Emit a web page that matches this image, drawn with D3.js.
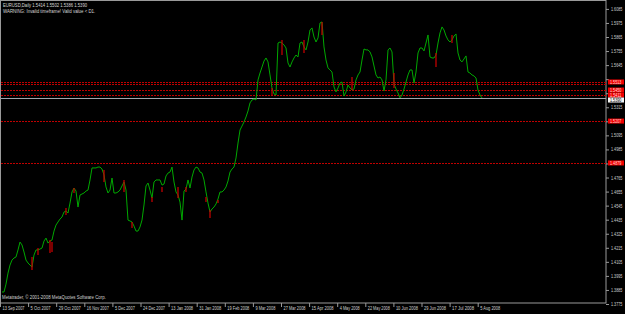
<!DOCTYPE html>
<html>
<head>
<meta charset="utf-8">
<script src="https://cdn.jsdelivr.net/npm/d3@7/dist/d3.min.js"></script>
<style>
  body { margin: 0; background: #000; }
  svg { display: block; }
  text { font-family: "Liberation Sans", Arial, sans-serif; }
</style>
</head>
<body>
<div id="chart"></div>
<script>
// EURUSD daily closes, one sample every ~2 px of the original picture
const closes = [
  1.3869, 1.3869, 1.3931, 1.4017, 1.4080, 1.4119, 1.4135, 1.4143, 1.4198, 1.4260,
  1.4237, 1.4182, 1.4119, 1.4096, 1.4080, 1.4064, 1.4158, 1.4198, 1.4198, 1.4205,
  1.4213, 1.4268, 1.4291, 1.4252, 1.4268, 1.4276, 1.4346, 1.4393, 1.4417, 1.4440,
  1.4456, 1.4495, 1.4503, 1.4487, 1.4565, 1.4652, 1.4683, 1.4659, 1.4534, 1.4628,
  1.4636, 1.4644, 1.4659, 1.4667, 1.4746, 1.4840, 1.4840, 1.4840, 1.4847, 1.4847,
  1.4832, 1.4785, 1.4691, 1.4644, 1.4667, 1.4761, 1.4644, 1.4644, 1.4652, 1.4667,
  1.4699, 1.4730, 1.4667, 1.4432, 1.4425, 1.4417, 1.4385, 1.4346, 1.4346, 1.4378,
  1.4432, 1.4550, 1.4699, 1.4722, 1.4667, 1.4605, 1.4730, 1.4746, 1.4746, 1.4746,
  1.4706, 1.4714, 1.4777, 1.4800, 1.4808, 1.4847, 1.4730, 1.4652, 1.4628, 1.4573,
  1.4432, 1.4659, 1.4675, 1.4746, 1.4683, 1.4769, 1.4824, 1.4847, 1.4840, 1.4808,
  1.4800, 1.4746, 1.4652, 1.4565, 1.4495, 1.4519, 1.4534, 1.4558, 1.4597, 1.4652,
  1.4652, 1.4667, 1.4691, 1.4738, 1.4808, 1.4832, 1.4847, 1.4918, 1.5035, 1.5137,
  1.5168, 1.5200, 1.5239, 1.5286, 1.5349, 1.5372, 1.5380, 1.5372, 1.5529, 1.5583,
  1.5630, 1.5677, 1.5701, 1.5670, 1.5568, 1.5466, 1.5419, 1.5411, 1.5818, 1.5826,
  1.5818, 1.5803, 1.5779, 1.5662, 1.5630, 1.5670, 1.5701, 1.5724, 1.5709, 1.5818,
  1.5826, 1.5787, 1.5764, 1.5826, 1.5920, 1.5936, 1.5865, 1.5826, 1.5858, 1.5975,
  1.5983, 1.5787, 1.5685, 1.5623, 1.5607, 1.5591, 1.5474, 1.5435, 1.5466, 1.5505,
  1.5513, 1.5403, 1.5435, 1.5489, 1.5466, 1.5450, 1.5458, 1.5529, 1.5568, 1.5591,
  1.5685, 1.5771, 1.5764, 1.5764, 1.5748, 1.5709, 1.5638, 1.5568, 1.5544, 1.5552,
  1.5529, 1.5443, 1.5529, 1.5764, 1.5779, 1.5748, 1.5497, 1.5458, 1.5427, 1.5388,
  1.5411, 1.5458, 1.5513, 1.5568, 1.5607, 1.5607, 1.5505, 1.5591, 1.5740, 1.5779,
  1.5779, 1.5756, 1.5818, 1.5881, 1.5709, 1.5701, 1.5701, 1.5724, 1.5818, 1.5897,
  1.5944, 1.5920, 1.5873, 1.5842, 1.5826, 1.5842, 1.5873, 1.5889, 1.5740, 1.5685,
  1.5670, 1.5693, 1.5717, 1.5591, 1.5583, 1.5568, 1.5560, 1.5544, 1.5450, 1.5411,
  1.5388
];

// red wicks drawn over the line: [sample index, high, low]
const redBars = [
  [15, 1.4143, 1.4041], [18, 1.4213, 1.4158], [24, 1.4276, 1.4174], [25, 1.4260, 1.4182],
  [32, 1.4526, 1.4472], [36, 1.4683, 1.4644], [51, 1.4824, 1.4730], [61, 1.4746, 1.4652],
  [65, 1.4417, 1.4370], [75, 1.4613, 1.4573], [80, 1.4691, 1.4652], [88, 1.4691, 1.4605],
  [92, 1.4691, 1.4652], [102, 1.4613, 1.4573], [104, 1.4511, 1.4448], [108, 1.4589, 1.4565],
  [135, 1.5466, 1.5411], [140, 1.5842, 1.5724], [151, 1.5842, 1.5740], [160, 1.5983, 1.5881],
  [175, 1.5552, 1.5450], [196, 1.5583, 1.5466], [217, 1.5740, 1.5630], [225, 1.5881, 1.5818]
];

const priceTicks = [
  1.3775, 1.3885, 1.3995, 1.4105, 1.4215, 1.4325, 1.4435, 1.4545, 1.4655, 1.4765, 1.4875,
  1.4985, 1.5095, 1.5205, 1.5315, 1.5425, 1.5535, 1.5645, 1.5755, 1.5865, 1.5975, 1.6085
];

const dateLabels = [
  "13 Sep 2007", "5 Oct 2007", "29 Oct 2007", "16 Nov 2007", "5 Dec 2007", "24 Dec 2007",
  "13 Jan 2008", "31 Jan 2008", "19 Feb 2008", "9 Mar 2008", "27 Mar 2008", "15 Apr 2008",
  "4 May 2008", "22 May 2008", "10 Jun 2008", "29 Jun 2008", "17 Jul 2008", "5 Aug 2008"
];

const levelLines = [1.5513, 1.5497, 1.5450, 1.5411, 1.5207, 1.4879];
// levels that get a box on the price scale (1.5497 sits under the 1.5513 box)
const levelBoxes = [1.5513, 1.5450, 1.5411, 1.5207, 1.4879];
const bidPrice = 1.5390;
const headerLines = ["EURUSD,Daily  1.5414 1.5502 1.5386 1.5390", "WARNING: Invalid timeframe! Valid value < D1."];
const copyright = "Metatrader, \u00a9 2001-2008 MetaQuotes Software Corp.";

const W = 625, H = 314;
const plotRight = 606, plotBottom = 303;
const samplesPerLabel = 14.05;
const fmt = d3.format(".4f");

const svg = d3.select("#chart").append("svg")
  .attr("width", W)
  .attr("height", H);

svg.append("rect").attr("width", W).attr("height", H).attr("fill", "#000");

const xScale = d3.scaleLinear().domain([0, closes.length - 1]).range([2, 482]);
const yScale = d3.scaleLinear().domain([1.3775, 1.6085]).range([304, 8.9]);

// squeeze small text to the width of the original pixel font
function fit(sel, perChar) {
  sel.attr("textLength", function() { return this.textContent.length * perChar; })
     .attr("lengthAdjust", "spacingAndGlyphs");
}

// frame
svg.append("rect")
  .attr("x", 0.5).attr("y", 0.5)
  .attr("width", plotRight - 0.5).attr("height", plotBottom - 0.5)
  .attr("fill", "none")
  .attr("stroke", "#9a9a9a")
  .attr("stroke-width", 1);

// dotted level lines
svg.selectAll(".level").data(levelLines).enter().append("line")
  .attr("class", "level")
  .attr("x1", 1).attr("x2", plotRight)
  .attr("y1", d => Math.round(yScale(d)) + 0.5)
  .attr("y2", d => Math.round(yScale(d)) + 0.5)
  .attr("stroke", "#c00000")
  .attr("stroke-dasharray", "2,1");

// bid line
svg.append("line")
  .attr("x1", 1).attr("x2", plotRight)
  .attr("y1", Math.round(yScale(bidPrice)) + 0.5)
  .attr("y2", Math.round(yScale(bidPrice)) + 0.5)
  .attr("stroke", "#a0a6ae");

// price line
const line = d3.line()
  .x((d, i) => xScale(i))
  .y(d => yScale(d));

svg.append("path")
  .datum(closes)
  .attr("d", line)
  .attr("fill", "none")
  .attr("stroke", "#00a800")
  .attr("stroke-width", 1);

svg.selectAll(".wick").data(redBars).enter().append("line")
  .attr("class", "wick")
  .attr("x1", d => xScale(d[0])).attr("x2", d => xScale(d[0]))
  .attr("y1", d => yScale(d[1])).attr("y2", d => yScale(d[2]))
  .attr("stroke", "#c00000")
  .attr("stroke-width", 1.3);

// level boxes on the axis, pushed down so they do not cover each other
const boxItems = levelBoxes.map(v => ({ v, bid: false }))
  .concat([{ v: bidPrice, bid: true }])
  .map(d => Object.assign(d, { y: yScale(d.v) }))
  .sort((a, b) => a.y - b.y);
for (let i = 1; i < boxItems.length; i++) {
  boxItems[i].y = Math.max(boxItems[i].y, boxItems[i - 1].y + 5);
}

// price axis; labels hidden under a level box are left out, as on the terminal
const yAxis = svg.append("g")
  .attr("transform", `translate(${plotRight},0)`)
  .call(d3.axisRight(yScale).tickValues(priceTicks).tickSize(3).tickPadding(2).tickFormat(fmt));
yAxis.select(".domain").remove();
yAxis.selectAll("line").attr("stroke", "#9a9a9a");
yAxis.selectAll("text").attr("fill", "#d0d0d0").attr("font-size", "4.8px")
  .attr("font-family", "Liberation Sans, Arial, sans-serif")
  .call(fit, 1.9);
yAxis.selectAll(".tick")
  .filter(d => boxItems.some(b => Math.abs(b.y - yScale(d)) < 5))
  .select("text").remove();

const boxes = svg.selectAll(".lvbox").data(boxItems).enter().append("g")
  .attr("transform", d => `translate(608,${d.y})`);
boxes.append("rect")
  .attr("x", 0).attr("y", -2.5).attr("width", 16).attr("height", 5)
  .attr("fill", d => d.bid ? "#f4f4f4" : "#f00000");
boxes.append("text")
  .attr("x", 2).attr("dy", "0.35em")
  .attr("font-size", "4.6px")
  .attr("fill", d => d.bid ? "#000" : "#ffd8d8")
  .text(d => fmt(d.v))
  .call(fit, 1.9);

// date axis
const dateTicks = dateLabels.map((d, k) => k * samplesPerLabel - 1);
const xAxis = svg.append("g")
  .attr("transform", `translate(0,${plotBottom})`)
  .call(d3.axisBottom(xScale).tickValues(dateTicks).tickSize(4).tickFormat((d, k) => dateLabels[k]));
xAxis.select(".domain").remove();
xAxis.selectAll("line").attr("stroke", "#9a9a9a");
xAxis.selectAll("text")
  .attr("text-anchor", "start")
  .attr("x", 2)
  .attr("y", 3.5)
  .attr("fill", "#d0d0d0")
  .attr("font-size", "4.8px")
  .attr("font-family", "Liberation Sans, Arial, sans-serif")
  .call(fit, 2.0);

// texts
svg.selectAll(".hdr").data(headerLines).enter().append("text")
  .attr("x", 3)
  .attr("y", (d, i) => 7 + i * 6)
  .attr("font-size", "4.8px")
  .attr("fill", "#d8d8d8")
  .text(d => d)
  .call(fit, 2.05);

svg.append("text")
  .attr("x", 2).attr("y", 299)
  .attr("font-size", "4.8px")
  .attr("fill", "#d0d0d0")
  .text(copyright)
  .call(fit, 2.12);
</script>
</body>
</html>
